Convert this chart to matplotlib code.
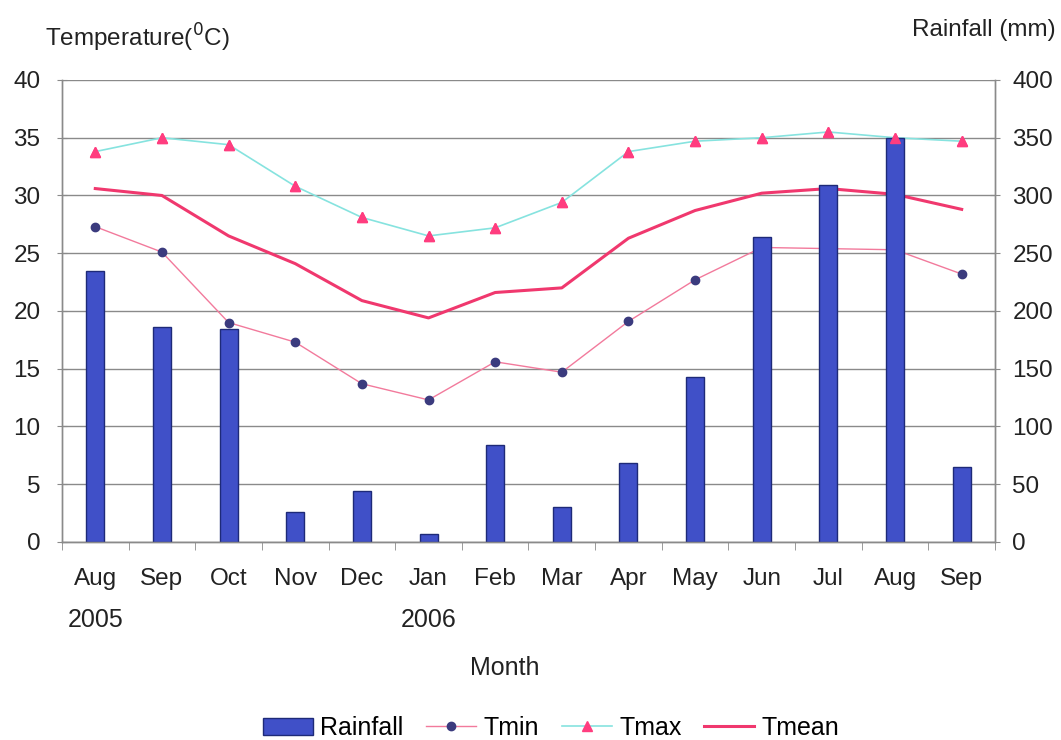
import matplotlib
matplotlib.use("Agg")
import matplotlib.pyplot as plt
import numpy as np
from matplotlib.lines import Line2D
from matplotlib.patches import Patch
import matplotlib.transforms as mtransforms

plt.rcParams['font.family'] = ['Liberation Sans', 'DejaVu Sans']

months = ['Aug', 'Sep', 'Oct', 'Nov', 'Dec', 'Jan', 'Feb', 'Mar', 'Apr', 'May', 'Jun', 'Jul', 'Aug', 'Sep']
year_labels = {0: '2005', 5: '2006'}
rainfall = [235, 186, 184, 26, 44, 7, 84, 30, 68, 143, 264, 309, 350, 65]
tmin = [27.3, 25.1, 19.0, 17.3, 13.7, 12.3, 15.6, 14.7, 19.1, 22.7, 25.5, 25.4, 25.3, 23.2]
tmax = [33.8, 35.0, 34.4, 30.8, 28.1, 26.5, 27.2, 29.4, 33.8, 34.7, 35.0, 35.5, 35.0, 34.7]
tmean = [30.6, 30.0, 26.5, 24.1, 20.9, 19.4, 21.6, 22.0, 26.3, 28.7, 30.2, 30.6, 30.1, 28.8]

FS = 17.5
TXT = '#222222'

fig = plt.figure(figsize=(10.61, 7.4), dpi=100)
ax = fig.add_axes([0.0584, 0.2676, 0.8794, 0.6243])
ax2 = ax.twinx()

x = np.arange(len(months))

ax.set_xlim(-0.5, len(months) - 0.5)
ax.set_ylim(0, 40)
ax.set_yticks(np.arange(0, 41, 5))
ax.yaxis.grid(True, color='#8a8a8a', linewidth=1.0)
ax.set_axisbelow(True)
ax2.set_ylim(0, 400)
ax2.set_yticks(np.arange(0, 401, 50))

ax.plot(x, tmean, color='#f0386e', linewidth=2.2, zorder=3)
ax.plot(x, tmin, color='#f27a9c', linewidth=1.0, marker='o', markersize=6,
        markerfacecolor='#3b3b7e', markeredgecolor='#3b3b7e', zorder=3)
ax.plot(x, tmax, color='#86e3df', linewidth=1.2, marker='^', markersize=7,
        markerfacecolor='#ff3d7f', markeredgecolor='#ff3d7f', zorder=5)

ax2.bar(x, rainfall, width=0.27, color='#4050c8', edgecolor='#1e2a78', linewidth=1.0, zorder=2)
ax2.set_zorder(ax.get_zorder() + 1)
ax2.patch.set_visible(False)
ax2.plot(x, [v * 10 for v in tmax], linestyle='none', marker='^', markersize=7,
         markerfacecolor='#ff3d7f', markeredgecolor='#ff3d7f', zorder=6)

for a in (ax, ax2):
    a.spines['top'].set_visible(False)
    for s in ('left', 'right', 'bottom'):
        a.spines[s].set_color('#8a8a8a')
        a.spines[s].set_linewidth(1.0)

ax.set_xticks(x)
ax.set_xticklabels(months)
ax.set_xticks(np.arange(-0.5, len(months), 1), minor=True)
ax.tick_params(axis='x', which='major', length=0, pad=19, labelsize=FS, labelcolor=TXT)
ax.tick_params(axis='x', which='minor', length=6, color='#8a8a8a', direction='out')
ax.tick_params(axis='y', length=7, direction='inout', color='#8a8a8a', labelsize=FS,
               labelcolor=TXT, pad=12)
ax2.tick_params(axis='y', length=7, direction='inout', color='#8a8a8a', labelsize=FS,
                labelcolor=TXT, pad=9)

trans = mtransforms.blended_transform_factory(ax.transData, fig.transFigure)
for i, lab in year_labels.items():
    ax.text(i, 1 - 620 / 740, lab, transform=trans, ha='center', va='center',
            fontsize=18, color=TXT)

fig.text(505 / 1061, 1 - 668 / 740, 'Month', ha='center', va='center', fontsize=18, color=TXT)
fig.text(45 / 1061, 1 - 38 / 740, 'Temperature($^{0}$C)', ha='left', va='center', fontsize=17.5, color=TXT)
fig.text(1056 / 1061, 1 - 30 / 740, 'Rainfall (mm)', ha='right', va='center', fontsize=17.5, color=TXT)

handles = [
    Patch(facecolor='#4050c8', edgecolor='#1e2a78'),
    Line2D([], [], color='#f27a9c', linewidth=1.0, marker='o', markersize=6,
           markerfacecolor='#3b3b7e', markeredgecolor='#3b3b7e'),
    Line2D([], [], color='#86e3df', linewidth=1.2, marker='^', markersize=7,
           markerfacecolor='#ff3d7f', markeredgecolor='#ff3d7f'),
    Line2D([], [], color='#f0386e', linewidth=2.2),
]
fig.legend(handles, ['Rainfall', 'Tmin', 'Tmax', 'Tmean'], loc='center',
           bbox_to_anchor=(551 / 1061, 1 - 728 / 740), ncol=4, frameon=False,
           fontsize=18, handlelength=2.0, columnspacing=0.9, handletextpad=0.3)

fig.savefig('out.png', dpi=100, facecolor='white')
